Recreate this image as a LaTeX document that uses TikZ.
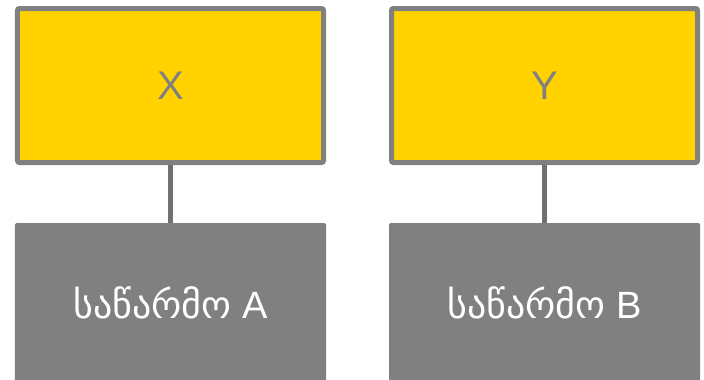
\documentclass[tikz,border=0pt]{standalone}
\usepackage{fontspec}
\setmainfont{Liberation Sans}
\newfontfamily\geofont{DejaVu Sans}
\usepackage{xcolor}
\usetikzlibrary{positioning,calc}

\definecolor{headyellow}{RGB}{255,210,0}
\definecolor{boxgray}{RGB}{128,128,128}
\definecolor{linkgray}{RGB}{112,112,112}

\begin{document}
\begin{tikzpicture}[
    x=1bp, y=-1bp,
    headbox/.style={rectangle, draw=boxgray, line width=5bp, fill=headyellow,
        rounded corners=2bp, minimum width=306bp, minimum height=154bp,
        text=boxgray, font=\fontsize{40bp}{44bp}\selectfont},
    firmbox/.style={rectangle, fill=boxgray, rounded corners=2bp,
        minimum width=311bp, minimum height=159bp,
        text=white, font=\fontsize{38bp}{44bp}\selectfont},
    link/.style={draw=linkgray, line width=4.5bp}
]
    \useasboundingbox (0,0) rectangle (704,379);

    % Left
    \node[headbox] (x) at (170.5, 85.5) {X};
    \node[firmbox] (fa) at (170.5, 302.5) {{\geofont საწარმო} A};
    \draw[link] (x) -- (fa);

    % Right
    \node[headbox] (y) at (544.5, 85.5) {Y};
    \node[firmbox] (fb) at (544.5, 302.5) {{\geofont საწარმო} B};
    \draw[link] (y) -- (fb);
\end{tikzpicture}
\end{document}
